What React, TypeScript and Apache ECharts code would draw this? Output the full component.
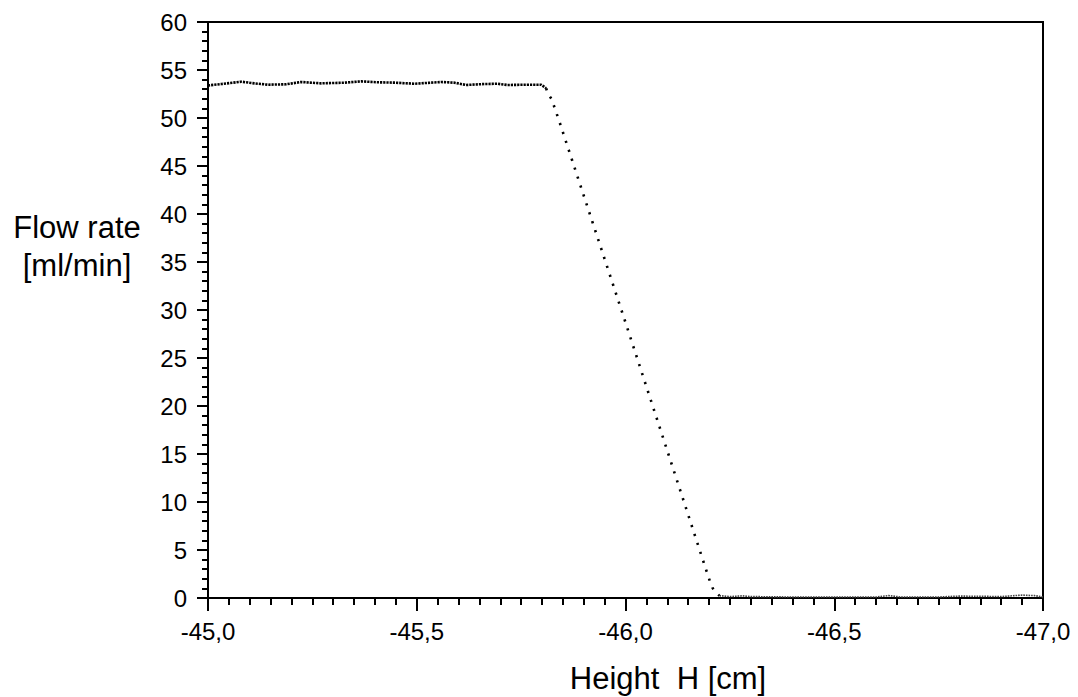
import React, { useEffect, useRef } from "react";
import * as echarts from "echarts";

// Height H [cm] and Flow rate [ml/min]
const plateauX = [-45.0, -45.004, -45.032, -45.08, -45.111, -45.143, -45.187, -45.223, -45.271, -45.327, -45.367, -45.406, -45.447, -45.495, -45.559, -45.59, -45.618, -45.662, -45.693, -45.717, -45.765, -45.798, -45.81];
const plateauY = [53.35, 53.41, 53.54, 53.78, 53.61, 53.47, 53.51, 53.75, 53.61, 53.68, 53.82, 53.72, 53.68, 53.57, 53.75, 53.68, 53.44, 53.54, 53.57, 53.44, 53.47, 53.47, 53.1];

const slopeX = [-45.81, -45.813, -45.823, -45.842, -46.0, -46.195, -46.202, -46.209, -46.217, -46.225];
const slopeY = [53.1, 52.6, 51.98, 49.58, 28.7, 2.68, 1.77, 1.01, 0.55, 0.24];

const bottomX = [-46.225, -46.25, -46.28, -46.3, -46.4, -46.5, -46.6, -46.63, -46.66, -46.75, -46.8, -46.9, -46.95, -46.98, -47.0];
const bottomY = [0.24, 0.15, 0.22, 0.15, 0.1, 0.1, 0.1, 0.25, 0.1, 0.1, 0.2, 0.15, 0.3, 0.25, 0.1];

const xMin = -47;
const xMax = -45;
const xInterval = 0.5;
const yMin = 0;
const yMax = 60;
const yInterval = 5;

const yTitle = ["Flow rate", "[ml/min]"];
const xTitle = "Height  H [cm]";

const pairs = (xs: number[], ys: number[]) => xs.map((x, i) => [x, ys[i]]);

export default function App() {
  const ref = useRef<HTMLDivElement>(null);
  useEffect(() => {
    document.body.style.margin = "0";
    if (!ref.current) return;
    const chart = echarts.init(ref.current, null, { renderer: "svg" });
    const font = "'Liberation Sans', Arial, sans-serif";
    chart.setOption({
      animation: false,
      backgroundColor: "#fff",
      grid: {
        left: 208,
        right: 35,
        top: 22,
        bottom: 99,
        show: true,
        borderColor: "#000",
        borderWidth: 2,
        backgroundColor: "transparent",
      },
      xAxis: {
        type: "value",
        inverse: true,
        min: xMin,
        max: xMax,
        interval: xInterval,
        axisLine: { show: true, onZero: false, lineStyle: { color: "#000", width: 2 } },
        axisTick: { show: true, length: 13, lineStyle: { color: "#000", width: 2 } },
        minorTick: { show: true, splitNumber: 10, length: 7, lineStyle: { color: "#000", width: 2 } },
        splitLine: { show: false },
        axisLabel: {
          color: "#000",
          fontSize: 24,
          fontFamily: font,
          margin: 21,
          formatter: (v: number) => v.toFixed(1).replace(".", ","),
        },
      },
      yAxis: {
        type: "value",
        min: yMin,
        max: yMax,
        interval: yInterval,
        axisLine: { show: true, onZero: false, lineStyle: { color: "#000", width: 2 } },
        axisTick: { show: true, length: 11, lineStyle: { color: "#000", width: 2 } },
        minorTick: { show: true, splitNumber: 5, length: 6, lineStyle: { color: "#000", width: 2 } },
        splitLine: { show: false },
        axisLabel: {
          color: "#000",
          fontSize: 24,
          fontFamily: font,
          margin: 21,
        },
      },
      graphic: [
        {
          type: "text",
          x: 77,
          y: 227,
          style: {
            text: yTitle[0],
            fontSize: 31,
            fontFamily: font,
            fill: "#000",
            align: "center",
            verticalAlign: "middle",
          },
        },
        {
          type: "text",
          x: 77,
          y: 265,
          style: {
            text: yTitle[1],
            fontSize: 31,
            fontFamily: font,
            fill: "#000",
            align: "center",
            verticalAlign: "middle",
          },
        },
        {
          type: "text",
          x: 668,
          y: 678,
          style: {
            text: xTitle,
            fontSize: 31,
            fontFamily: font,
            fill: "#000",
            align: "center",
            verticalAlign: "middle",
          },
        },
      ],
      series: [
        {
          type: "line",
          data: pairs(plateauX, plateauY),
          showSymbol: false,
          symbol: "none",
          lineStyle: { color: "#000", width: 2.6, type: [2.2, 1] },
          z: 3,
        },
        {
          type: "line",
          data: pairs(slopeX, slopeY),
          showSymbol: false,
          symbol: "none",
          lineStyle: { color: "#000", width: 2.6, type: [2.2, 7.2] },
          z: 3,
        },
        {
          type: "line",
          data: pairs(bottomX, bottomY),
          showSymbol: false,
          symbol: "none",
          lineStyle: { color: "#444", width: 1.6, type: [1.6, 1] },
          z: 1,
        },
      ],
    });
    return () => chart.dispose();
  }, []);
  return <div ref={ref} style={{ width: 1078, height: 697 }} />;
}
